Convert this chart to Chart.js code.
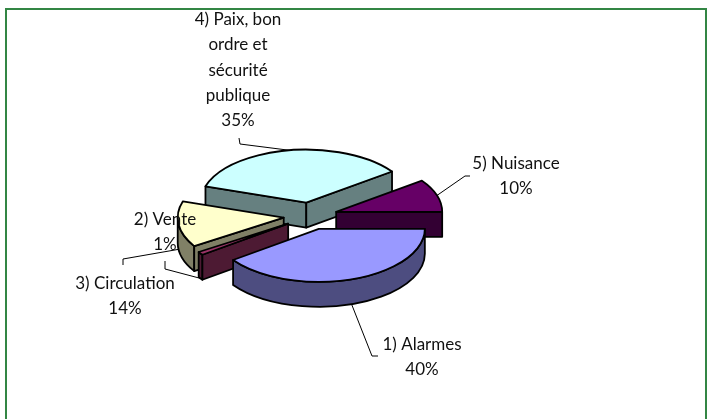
<!DOCTYPE html>
<html lang="fr">
<head>
<meta charset="utf-8">
<title>Répartition des appels</title>
<script src="https://cdn.jsdelivr.net/npm/chart.js@4"></script>
<style>
  html, body { margin: 0; padding: 0; background: #fff; overflow: hidden; }
  #cadre {
    position: absolute; left: 5px; top: 8px; width: 698px; height: 411px;
    border-top: 2px solid #338644; border-left: 2px solid #338644; border-right: 2px solid #338644;
  }
  #camembert { position: absolute; left: 0; top: 0; }
</style>
</head>
<body>
<div id="cadre"></div>
<canvas id="camembert" width="712" height="419"></canvas>
<script>
// ---------- DONNÉES ----------
const categories = ['1) Alarmes', '2) Vente', '3) Circulation', '4) Paix, bon|ordre et|sécurité|publique', '5) Nuisance'];
const pourcentages = [40, 1, 14, 35, 10];
const couleursDessus = ['#9999ff', '#993366', '#ffffcc', '#ccffff', '#660066'];
const couleursCote = ['#4d4d80', '#4d1a33', '#808066', '#668080', '#330033'];

// ---------- MISE EN PAGE ----------
const ECRASEMENT = 0.5;   // aplatit le disque
const EPAISSEUR = 25;     // hauteur du côté, en pixels
const ECART = 27;         // éclatement des parts
const INTERLIGNE = 25.3;

// centre du texte (première ligne) et coude du trait de rappel, par catégorie
const etiquettes = [
  { x: 422, y: 344.5, coude: [[378, 356], [372, 356]] },
  { x: 165, y: 219.5, coude: [[165, 261], [165, 269]] },
  { x: 125, y: 283.5, coude: [[123, 265], [123, 259]] },
  { x: 238, y: 19.5,  coude: [[239, 138], [240, 144]] },
  { x: 516, y: 163.5, coude: [[470, 176], [465, 176]] }
];

function centrePart(part, dy){
  const mi = (part.startAngle + part.endAngle) / 2;
  return { x: part.x + Math.cos(mi) * ECART, y: part.y + dy + Math.sin(mi) * ECART * ECRASEMENT };
}

// Repère d'une part : éclatée le long de sa bissectrice, puis aplatie
function repere(ctx, part, dy){
  const c = centrePart(part, dy);
  ctx.translate(c.x, c.y);
  ctx.scale(1, ECRASEMENT);
  ctx.translate(-part.x, -part.y);
}

// Le chemin est construit dans le repère aplati, le trait est posé hors de ce
// repère : il garde donc la même épaisseur partout
function aplati(ctx, part, dy, trace){
  ctx.save();
  repere(ctx, part, dy);
  trace();
  ctx.restore();
}

function pointBord(part, angle, dy){
  const c = centrePart(part, dy);
  return {
    x: c.x + Math.cos(angle) * part.outerRadius,
    y: c.y + Math.sin(angle) * part.outerRadius * ECRASEMENT
  };
}

function tracer(ctx){
  ctx.strokeStyle = '#000';
  ctx.lineWidth = 1.8;
  ctx.lineJoin = 'round';
  ctx.stroke();
}

function faceCoupe(ctx, part, angle, couleur){
  const c = centrePart(part, 0);
  const b = pointBord(part, angle, 0);
  ctx.beginPath();
  ctx.moveTo(c.x, c.y);
  ctx.lineTo(b.x, b.y);
  ctx.lineTo(b.x, b.y + EPAISSEUR);
  ctx.lineTo(c.x, c.y + EPAISSEUR);
  ctx.closePath();
  ctx.fillStyle = couleur;
  ctx.fill();
  tracer(ctx);
}

function faceBord(ctx, part, couleur){
  const debut = Math.max(part.startAngle, 0);
  const fin = Math.min(part.endAngle, Math.PI);
  if(fin <= debut) return;
  const r = part.outerRadius;
  ctx.beginPath();
  aplati(ctx, part, 0, () => ctx.arc(part.x, part.y, r, debut, fin));
  aplati(ctx, part, EPAISSEUR, () => ctx.arc(part.x, part.y, r, fin, debut, true));
  ctx.closePath();
  ctx.fillStyle = couleur;
  ctx.fill();
  tracer(ctx);
}

const relief3d = {
  id: 'relief3d',
  // on remplace le passage normal : chaque part a son propre repère
  beforeDatasetDraw(){
    return false;
  },
  afterDatasetsDraw(chart){
    const { ctx } = chart;
    const arcs = chart.getDatasetMeta(0).data;

    // de l'arrière vers l'avant
    const ordre = arcs.map((part, i) => ({ part, i })).sort((a, b) =>
      Math.sin((a.part.startAngle + a.part.endAngle) / 2) - Math.sin((b.part.startAngle + b.part.endAngle) / 2));

    ordre.forEach(({ part, i }) => {
      faceBord(ctx, part, couleursCote[i]);
      if(Math.cos(part.startAngle) < 0) faceCoupe(ctx, part, part.startAngle, couleursCote[i]);
      if(Math.cos(part.endAngle) > 0) faceCoupe(ctx, part, part.endAngle, couleursCote[i]);
    });

    ordre.forEach(({ part }) => {
      ctx.save();
      repere(ctx, part, 0);
      part.draw(ctx);
      ctx.restore();
      ctx.beginPath();
      aplati(ctx, part, 0, () => {
        ctx.moveTo(part.x, part.y);
        ctx.arc(part.x, part.y, part.outerRadius, part.startAngle, part.endAngle);
        ctx.closePath();
      });
      tracer(ctx);
    });

    // traits de rappel
    arcs.forEach((part, i) => {
      const mi = (part.startAngle + part.endAngle) / 2;
      const devant = Math.sin(mi) > 0;
      const depart = pointBord(part, mi, devant ? EPAISSEUR : 0);
      ctx.beginPath();
      ctx.moveTo(depart.x, depart.y);
      [...etiquettes[i].coude].reverse().forEach(p => ctx.lineTo(p[0], p[1]));
      ctx.strokeStyle = '#000';
      ctx.lineWidth = 1;
      ctx.stroke();
    });

    // textes
    ctx.fillStyle = '#111';
    ctx.font = "17px Lato, 'Open Sans', sans-serif";
    ctx.textAlign = 'center';
    ctx.textBaseline = 'middle';
    categories.forEach((nom, i) => {
      const lignes = nom.split('|').concat(pourcentages[i] + '%');
      lignes.forEach((ligne, n) => ctx.fillText(ligne, etiquettes[i].x, etiquettes[i].y + n * INTERLIGNE));
    });
  }
};

new Chart(document.getElementById('camembert').getContext('2d'), {
  type: 'pie',
  data: {
    labels: categories,
    datasets: [{
      data: pourcentages,
      backgroundColor: couleursDessus,
      borderWidth: 0
    }]
  },
  options: {
    responsive: false,
    animation: false,
    events: [],
    rotation: 90,
    layout: { padding: { left: 204.5, right: 295.5, top: 110, bottom: 97 } },
    plugins: { legend: { display: false }, tooltip: { enabled: false } }
  },
  plugins: [relief3d]
});
</script>
</body>
</html>
